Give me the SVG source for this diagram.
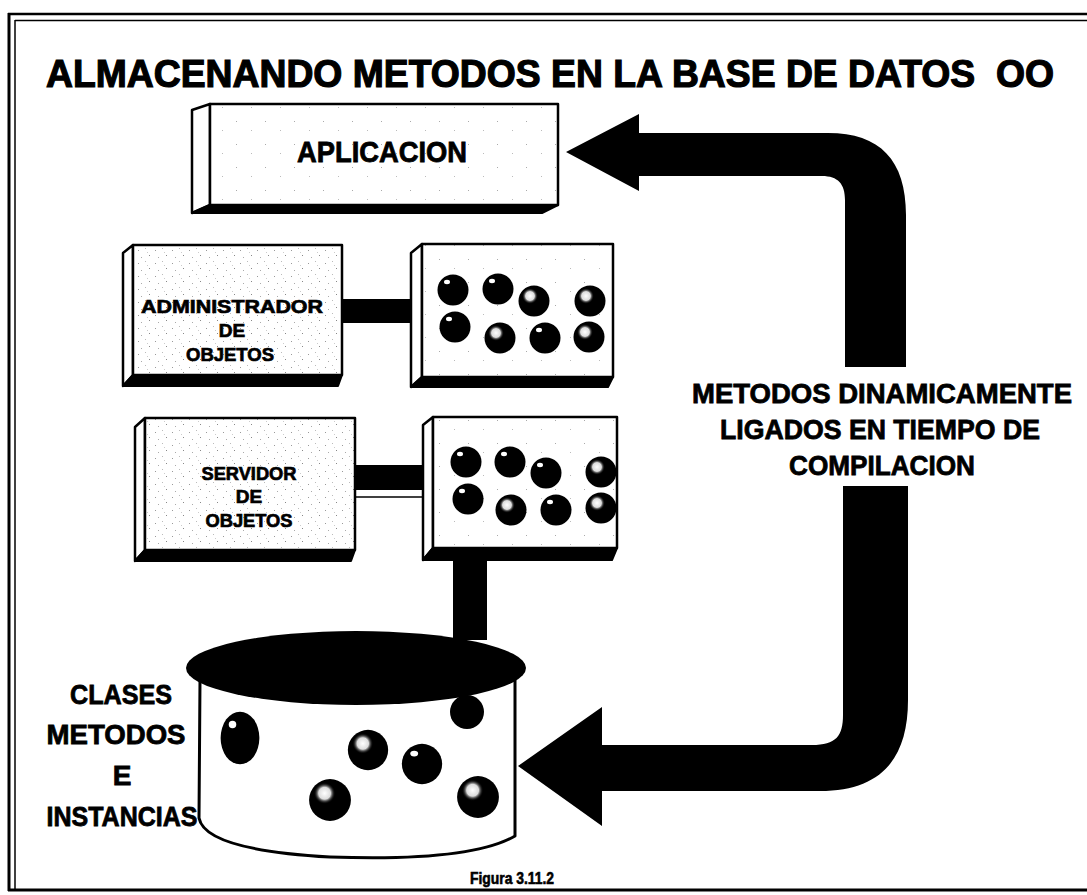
<svg xmlns="http://www.w3.org/2000/svg" width="1087" height="895" viewBox="0 0 1087 895">
  <style>
    text { font-family: "Liberation Sans", Arial, sans-serif; font-weight: bold; fill: #000; stroke: #000; stroke-width: 0.6; }
    .title { font-size: 38px; stroke-width: 1.2; }
    .big { font-size: 30px; stroke-width: 0.8; }
    .mid { font-size: 28px; stroke-width: 0.8; }
    .small { font-size: 19px; stroke-width: 0.7; }
    .face { fill: url(#speckle); stroke: #000; stroke-width: 2.5; stroke-linejoin: round; }
    .plain { fill: url(#speckleLight); stroke: #000; stroke-width: 2.5; stroke-linejoin: round; }
    .side { fill: #fff; stroke: #000; stroke-width: 2.5; stroke-linejoin: round; }
    .shade { fill: #000; stroke: #000; stroke-width: 2; stroke-linejoin: round; }
    .ink { fill: #000; }
    .frame { stroke: #000; fill: none; }
  </style>
  <defs>
    <!-- stippled fill used on the labelled boxes -->
    <pattern id="speckle" width="17" height="13" patternUnits="userSpaceOnUse">
      <rect width="17" height="13" fill="#fff"/>
      <rect x="2" y="3" width="1" height="1" fill="#999"/>
      <rect x="9" y="1" width="1" height="1" fill="#bbb"/>
      <rect x="13" y="8" width="1" height="1" fill="#888"/>
      <rect x="5" y="10" width="1" height="1" fill="#aaa"/>
      <rect x="11" y="5" width="1" height="1" fill="#ccc"/>
    </pattern>
    <pattern id="speckleLight" width="29" height="23" patternUnits="userSpaceOnUse">
      <rect width="29" height="23" fill="#fff"/>
      <rect x="4" y="6" width="1" height="1" fill="#aaa"/>
      <rect x="19" y="15" width="1" height="1" fill="#bbb"/>
    </pattern>
    <radialGradient id="glow" cx="0.5" cy="0.5" r="0.5">
      <stop offset="0" stop-color="#fff"/>
      <stop offset="0.55" stop-color="#ddd"/>
      <stop offset="1" stop-color="#000" stop-opacity="0"/>
    </radialGradient>
    <!-- dark sphere with a small hard highlight -->
    <g id="ball">
      <circle r="15.5" fill="#000"/>
      <ellipse cx="-6" cy="-8" rx="3" ry="2.2" fill="#fff"/>
    </g>
    <!-- dark sphere with a soft, larger highlight -->
    <g id="ballGlow">
      <circle r="15.5" fill="#000"/>
      <circle cx="-4" cy="-5" r="8" fill="url(#glow)"/>
    </g>
  </defs>

  <!-- page frame (double rule on left and top) -->
  <g id="frame" class="frame">
    <line x1="9" y1="13" x2="9" y2="891" stroke-width="3"/>
    <line x1="15" y1="20" x2="15" y2="889" stroke-width="1.5"/>
    <line x1="8" y1="14" x2="1087" y2="14" stroke-width="2.5"/>
    <line x1="15" y1="20.5" x2="1087" y2="20.5" stroke-width="1.5"/>
    <line x1="8" y1="890" x2="1087" y2="890" stroke-width="3"/>
  </g>

  <text id="title" class="title" x="46" y="87" textLength="1008" lengthAdjust="spacingAndGlyphs">ALMACENANDO METODOS EN LA BASE DE DATOS&#160; OO</text>

  <!-- connectors -->
  <g id="connectors">
    <!-- object manager to object pool -->
    <path class="ink" d="M342,299 L414,299 Q425,305 423,311 Q425,318 414,323 L342,323 Z"/>
    <!-- object server to object pool -->
    <rect class="ink" x="355" y="465" width="74" height="25"/>
    <line x1="355" y1="497" x2="425" y2="497" stroke="#000" stroke-width="1.5"/>
    <!-- store up to object server pool -->
    <path class="ink" d="M469,516 L500,548 L487,548 L487,640 L453,640 L453,548 L441,548 Z"/>
    <!-- upper bent arrow into the application -->
    <path class="ink" d="M566,152 L639,114 L639,133 L828,133 C880,133 906,160 906,215 L906,367 L845,367 L845,200 C845,184 838,176 822,176 L639,176 L639,191 Z"/>
    <!-- lower bent arrow into the store -->
    <path class="ink" d="M518,766 L602,707 L602,745 L812,745 C836,745 843,736 843,715 L843,486 L908,486 L908,700 C908,760 880,791 820,791 L602,791 L602,826 Z"/>
  </g>

  <g id="aplicacion">
    <polygon class="side" points="192,110 210,104 210,205 192,213"/>
    <polygon class="shade" points="192,213 210,205 558,205 542,213"/>
    <rect class="plain" x="210" y="104" width="348" height="101"/>
    <text class="big" x="382" y="162" text-anchor="middle" textLength="170" lengthAdjust="spacingAndGlyphs">APLICACION</text>
  </g>

  <g id="administrador">
    <polygon class="side" points="123,253 133,245 133,375 123,386"/>
    <polygon class="shade" points="123,386 133,375 342,375 338,386"/>
    <rect class="face" x="133" y="245" width="209" height="130"/>
    <text class="small" x="232" y="313" text-anchor="middle" textLength="182" lengthAdjust="spacingAndGlyphs">ADMINISTRADOR</text>
    <text class="small" x="232" y="337" text-anchor="middle">DE</text>
    <text class="small" x="230" y="361" text-anchor="middle" textLength="88" lengthAdjust="spacingAndGlyphs">OBJETOS</text>
  </g>

  <g id="pool-admin">
    <polygon class="side" points="411,253 422,244 422,377 411,387"/>
    <polygon class="shade" points="411,387 422,377 613,377 608,387"/>
    <rect class="plain" x="422" y="244" width="191" height="133"/>
    <use href="#ball" x="453" y="290"/>
    <use href="#ball" x="498" y="289"/>
    <use href="#ballGlow" x="534" y="301"/>
    <use href="#ballGlow" x="590" y="301"/>
    <use href="#ball" x="455" y="327"/>
    <use href="#ballGlow" x="500" y="338"/>
    <use href="#ball" x="545" y="338"/>
    <use href="#ballGlow" x="589" y="337"/>
  </g>

  <g id="servidor">
    <polygon class="side" points="135,427 145,418 145,550 135,561"/>
    <polygon class="shade" points="135,561 145,550 355,550 351,561"/>
    <rect class="face" x="145" y="418" width="210" height="132"/>
    <text class="small" x="249" y="480" text-anchor="middle" textLength="95" lengthAdjust="spacingAndGlyphs">SERVIDOR</text>
    <text class="small" x="249" y="503" text-anchor="middle">DE</text>
    <text class="small" x="249" y="527" text-anchor="middle" textLength="87" lengthAdjust="spacingAndGlyphs">OBJETOS</text>
  </g>

  <g id="pool-servidor">
    <polygon class="side" points="423,425 433,417 433,548 423,560"/>
    <polygon class="shade" points="423,560 433,548 617,548 612,560"/>
    <rect class="plain" x="433" y="417" width="184" height="131"/>
    <use href="#ball" x="466" y="462"/>
    <use href="#ball" x="510" y="462"/>
    <use href="#ball" x="546" y="473"/>
    <use href="#ballGlow" x="601" y="472"/>
    <use href="#ball" x="468" y="499"/>
    <use href="#ballGlow" x="511" y="510"/>
    <use href="#ball" x="556" y="510"/>
    <use href="#ballGlow" x="601" y="508"/>
  </g>

  <g id="almacen">
    <path d="M200,680 L199,818 Q205,850 330,857 Q470,862 515,836 L515,680 Z" fill="#fff" stroke="#000" stroke-width="3" stroke-linejoin="round"/>
    <ellipse cx="356" cy="668" rx="170" ry="37" fill="#000"/>
    <circle cx="467" cy="712" r="17" fill="#000"/>
    <g transform="translate(240,738) scale(1.25,1.7)"><use href="#ball"/></g>
    <g transform="translate(330,800) scale(1.35)"><use href="#ballGlow"/></g>
    <g transform="translate(368,750) scale(1.3)"><use href="#ballGlow"/></g>
    <g transform="translate(422,764) scale(1.3)"><use href="#ball"/></g>
    <g transform="translate(478,797) scale(1.35)"><use href="#ballGlow"/></g>
  </g>

  <g id="label-almacen">
    <text class="mid" x="121" y="704" text-anchor="middle" textLength="102" lengthAdjust="spacingAndGlyphs">CLASES</text>
    <text class="mid" x="116" y="744" text-anchor="middle" textLength="139" lengthAdjust="spacingAndGlyphs">METODOS</text>
    <text class="mid" x="122" y="785" text-anchor="middle">E</text>
    <text class="mid" x="122" y="826" text-anchor="middle" textLength="151" lengthAdjust="spacingAndGlyphs">INSTANCIAS</text>
  </g>

  <g id="label-ligado">
    <text class="mid" x="882" y="403" text-anchor="middle" textLength="380" lengthAdjust="spacingAndGlyphs">METODOS DINAMICAMENTE</text>
    <text class="mid" x="880" y="439" text-anchor="middle" textLength="320" lengthAdjust="spacingAndGlyphs">LIGADOS EN TIEMPO DE</text>
    <text class="mid" x="882" y="475" text-anchor="middle" textLength="186" lengthAdjust="spacingAndGlyphs">COMPILACION</text>
  </g>

  <text id="caption" x="512" y="884" font-size="16" text-anchor="middle" textLength="84" lengthAdjust="spacingAndGlyphs">Figura 3.11.2</text>
</svg>
